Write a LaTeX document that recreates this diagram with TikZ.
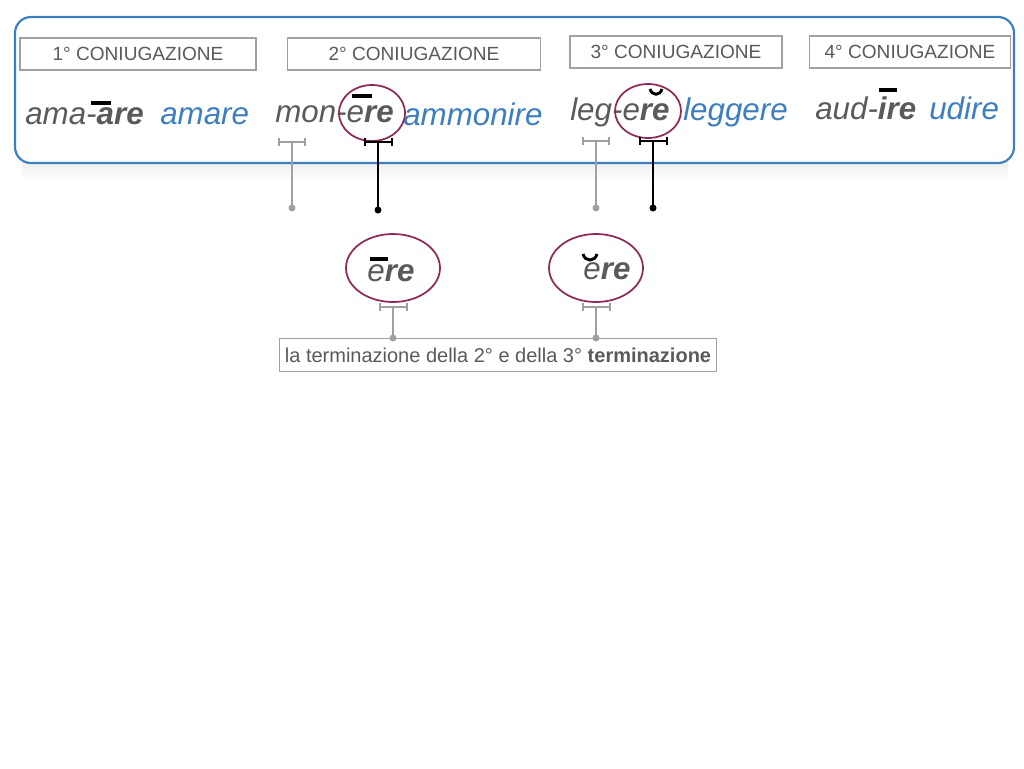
\documentclass[tikz,border=0pt]{standalone}
\usepackage{fontspec}
\setmainfont{Liberation Sans}
\definecolor{bl}{HTML}{3D7EBF}
\definecolor{tg}{HTML}{5A5A5A}
\definecolor{pm}{HTML}{8E2A5A}
\definecolor{lg}{HTML}{A0A0A0}
\begin{document}
\begin{tikzpicture}[x=0.75pt,y=-0.75pt,
  lab/.style={draw=lg,line width=0.8pt,text=tg,font=\fontsize{14.3}{16}\selectfont,minimum height=24pt,inner sep=0pt},
  word/.style={font=\fontsize{23.5}{26}\selectfont\itshape,inner sep=0pt,anchor=west},
  ring/.style={draw=pm,line width=1.3pt},
  gl/.style={draw=lg,line width=1.5pt},
  bk/.style={draw=black,line width=1.5pt}]
\useasboundingbox (0,0) rectangle (1024,768);
\shade[top color=black!8,bottom color=white] (22,160) rectangle (1008,180);
\draw[bl,line width=1.6pt,rounded corners=12pt,fill=white] (15,17) rectangle (1014,163);
\node[lab,minimum width=177pt] (l1) at (138,54) {1° CONIUGAZIONE};
\node[lab,minimum width=190pt] (l2) at (414,54) {2° CONIUGAZIONE};
\node[lab,minimum width=159pt] (l3) at (676,52) {3° CONIUGAZIONE};
\node[lab,minimum width=151pt] (l4) at (910,52) {4° CONIUGAZIONE};
% words
\node[word,text=tg] (w1) at (25,116) {ama-\textbf{are}};
\node[word,text=bl] (w1b) at (160,116) {amare};
\node[word,text=tg] (w2) at (275,114) {mon-e\textbf{re}};
\node[word,text=bl] (w2b) at (403,114) {ammonire};
\node[word,text=tg] (w3) at (570,112) {leg-e\textbf{re}};
\node[word,text=bl] (w3b) at (683,112) {leggere};
\node[word,text=tg] (w4) at (815,108) {aud-\textbf{ire}};
\node[word,text=bl] (w4b) at (929,108) {udire};
\fill (91,101) rectangle (111,105);
\fill (352,94) rectangle (372,98);
\fill (879,88) rectangle (897,92);
\draw[line width=2.2pt] (650,89) .. controls (652,96) and (660,96) .. (662,89);
% ellipses
\draw[ring] (372,113) ellipse [x radius=33,y radius=28];
\draw[ring] (648,111) ellipse [x radius=33,y radius=27];
% brackets
\coordinate (g1) at (292,142); \coordinate (d1) at (292,208);
\coordinate (k1) at (378,142); \coordinate (e1) at (378,210);
\coordinate (g2) at (596,141); \coordinate (d2) at (596,208);
\coordinate (k2) at (653,141); \coordinate (e2) at (653,208);
\draw[gl] (279,142) -- (305,142) (279,138) -- (279,146) (305,138) -- (305,146);
\draw[gl] (g1) -- (d1); \fill[lg] (d1) circle (3.5);
\draw[bk] (365,142) -- (392,142) (365,138) -- (365,146) (392,138) -- (392,146);
\draw[bk] (k1) -- (e1); \fill (e1) circle (3.5);
\draw[gl] (583,141) -- (609,141) (583,137) -- (583,145) (609,137) -- (609,145);
\draw[gl] (g2) -- (d2); \fill[lg] (d2) circle (3.5);
\draw[bk] (640,141) -- (667,141) (640,137) -- (640,145) (667,137) -- (667,145);
\draw[bk] (k2) -- (e2); \fill (e2) circle (3.5);
% lower circles
\draw[ring] (393,268) ellipse [x radius=47,y radius=34];
\draw[ring] (596,268) ellipse [x radius=47,y radius=34];
\node[word,anchor=center,text=tg] (r1) at (391,273) {e\textbf{re}};
\node[word,anchor=center,text=tg] (r2) at (607,271) {e\textbf{re}};
\fill (370,257) rectangle (388,261);
\draw[line width=2.2pt] (583,254) .. controls (585,262) and (595,262) .. (597,254);
% bottom box
\node[draw=lg,line width=0.8pt,text=tg,font=\fontsize{15}{17}\selectfont,minimum width=328pt,minimum height=25pt,inner sep=0pt] (bx) at (498,355) {la terminazione della 2° e della 3° \textbf{terminazione}};
\draw[gl] (380,307) -- (407,307) (380,303) -- (380,311) (407,303) -- (407,311);
\draw[gl] (583,307) -- (610,307) (583,303) -- (583,311) (610,303) -- (610,311);
\draw[gl] (393,307) -- (393,338); \fill[lg] (393,338) circle (3.5);
\draw[gl] (596,307) -- (596,338); \fill[lg] (596,338) circle (3.5);
\end{tikzpicture}
\end{document}
